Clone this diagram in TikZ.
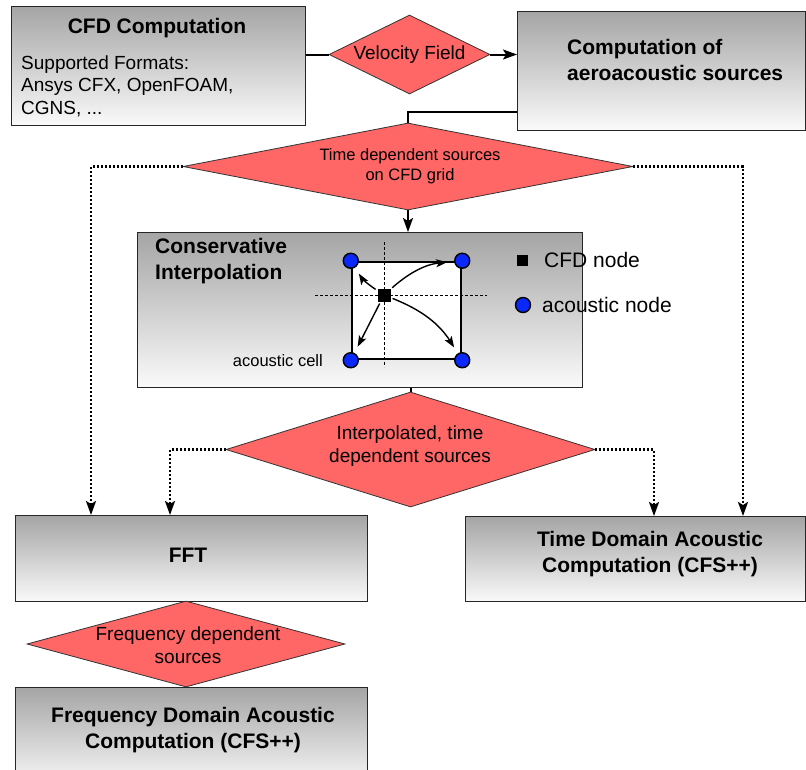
\documentclass[tikz,border=0pt]{standalone}
\usepackage{fontspec}
\setmainfont{Liberation Sans}
\usetikzlibrary{shapes.geometric,arrows.meta,calc}
\definecolor{dred}{RGB}{255,102,102}
\definecolor{boxtop}{RGB}{165,165,165}
\definecolor{boxbot}{RGB}{250,250,250}
\definecolor{nodeblue}{RGB}{10,40,250}
\begin{document}
\begin{tikzpicture}[x=1pt,y=-1pt,
  box/.style={draw=black!85, line width=1.3pt, top color=boxtop, bottom color=boxbot, inner sep=0pt, anchor=north west},
  dia/.style={diamond, draw=black!80, line width=0.8pt, fill=dred, inner sep=0pt},
  conn/.style={line width=2pt},
  arr/.style={-{Stealth[length=14pt,width=10pt,inset=3pt]}},
  dots/.style={line width=2.4pt, dash pattern=on 2pt off 2pt},
  tb/.style={font=\fontsize{21}{25.5}\selectfont\bfseries, inner sep=0pt},
  tr/.style={font=\fontsize{19}{22.5}\selectfont, inner sep=0pt},
  ts/.style={font=\fontsize{16.5}{20}\selectfont, inner sep=0pt},
  tl/.style={font=\fontsize{21}{25}\selectfont, inner sep=0pt},
  acn/.style={circle, draw=black, line width=1.4pt, fill=nodeblue, minimum size=15pt, inner sep=0pt},
  cfdn/.style={rectangle, fill=black, minimum size=13pt, inner sep=0pt},
  sarr/.style={line width=1.4pt, -{Stealth[length=11pt,width=8pt,inset=2.5pt]}, shorten <=2pt, shorten >=7pt},
  guide/.style={line width=0.9pt, dash pattern=on 3pt off 2pt}
]
\useasboundingbox (0,0) rectangle (806,769);
\fill[white] (0,0) rectangle (806,769);

% boxes
\node[box, minimum width=294pt, minimum height=119pt] (cfd) at (11,6) {};
\node[box, minimum width=288pt, minimum height=119pt] (comp) at (517,11) {};
\node[box, minimum width=445pt, minimum height=155pt] (interp) at (137,232) {};
\node[box, minimum width=352pt, minimum height=86pt] (fft) at (15,515) {};
\node[box, minimum width=340pt, minimum height=85pt] (time) at (465,516) {};
\node[box, minimum width=352pt, minimum height=100pt] (freq) at (15,687) {};

% box texts
\node[tb] (cfdt) at (157,28) {CFD Computation};
\node[tr, align=left, anchor=west] (cfdb) at (21,86) {Supported Formats:\\Ansys CFX, OpenFOAM,\\CGNS, ...};
\node[tb, align=left, anchor=west] (compt) at (567,60) {Computation of\\aeroacoustic sources};
\node[tb, align=left, anchor=west] (interpt) at (155,261) {Conservative\\Interpolation};
\node[tb] (fftt) at (188,555) {FFT};
\node[tb, align=center] (timet) at (650,554) {Time Domain Acoustic\\Computation (CFS++)};
\node[tb, align=center] (freqt) at (193,730) {Frequency Domain Acoustic\\Computation (CFS++)};

% diamonds
\node[dia, minimum width=161pt, minimum height=79pt] (vf) at (409.5,54.5) {};
\node[tr] (vft) at (vf) {Velocity Field};
\node[dia, minimum width=450pt, minimum height=87pt] (tds) at (408,166.5) {};
\node[ts, align=center] (tdst) at (410,166) {Time dependent sources\\on CFD grid};
\node[dia, minimum width=369pt, minimum height=115pt] (ipd) at (410.5,449.5) {};
\node[tr, align=center] (ipdt) at (410,446) {Interpolated, time\\dependent sources};
\node[dia, minimum width=318pt, minimum height=86pt] (fds) at (186,644) {};
\node[tr, align=center] (fdst) at (188,645) {Frequency dependent\\sources};

% connectors
\coordinate (k1) at (517,112);
\coordinate (fA) at (91,515);
\coordinate (fB) at (170,515);
\coordinate (tA) at (654,516);
\coordinate (tB) at (743,516);
\draw[conn] (cfd.east |- vf.west) -- (vf.west);
\draw[conn,arr] (vf.east) -- (comp.west |- vf.east);
\draw[conn] (k1) -| (tds.north);
\draw[conn,arr] (tds.south) -- (tds.south |- interp.north);
\draw[conn] (interp.south -| ipd.north) -- (ipd.north);
\draw[dots,arr] (tds.west) -| (fA);
\draw[dots,arr] (tds.east) -| (tB);
\draw[dots,arr] (ipd.west) -| (fB);
\draw[dots,arr] (ipd.east) -| (tA);

% interpolation sketch
\node[draw=black, line width=2.5pt, fill=white, minimum width=109pt, minimum height=97pt, inner sep=0pt] (cell) at (406.5,310.5) {};
\draw[guide] (315,295) -- (487,295);
\draw[guide] (384,242) -- (384,367);
\node[acn] (c1) at (cell.north west) {};
\node[acn] (c2) at (cell.north east) {};
\node[acn] (c3) at (cell.south west) {};
\node[acn] (c4) at (cell.south east) {};
\node[cfdn] (cn) at (384,295) {};
\draw[sarr] (cn) to[bend left=12] (c1);
\draw[sarr] (cn) to[bend left=18] (c2);
\draw[sarr] (cn) to (c3);
\draw[sarr] (cn) to[bend left=18] (c4);
\node[ts, anchor=east] (cellt) at (323,361) {acoustic cell};

% legend
\node[cfdn, minimum size=11pt] (lsq) at (522,260) {};
\node[tl, anchor=west] (lsqt) at (544,260) {CFD node};
\node[acn] (lci) at (523,305) {};
\node[tl, anchor=west] (lcit) at (542,305) {acoustic node};
\end{tikzpicture}
\end{document}
